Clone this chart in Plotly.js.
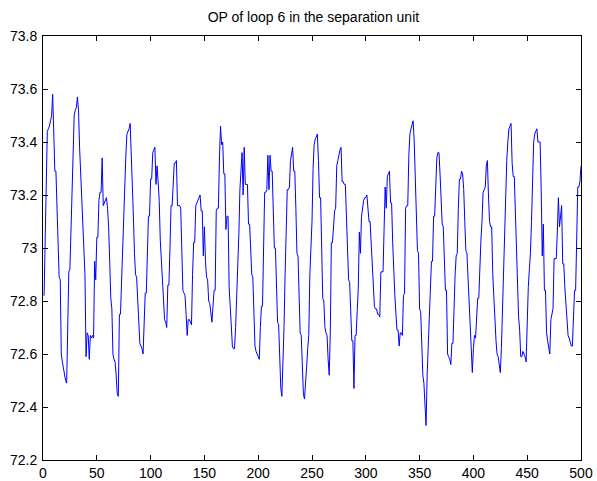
<!DOCTYPE html>
<html>
<head>
<meta charset="utf-8">
<script src="https://cdn.plot.ly/plotly-3.0.1.min.js"></script>
<style>html,body{margin:0;padding:0;background:#fff;}#chart{width:597px;height:481px;}</style>
</head>
<body>
<div id="chart"></div>
<script>
const chartTitle = "OP of loop 6 in the separation unit";
const xTickVals = [0, 50, 100, 150, 200, 250, 300, 350, 400, 450, 500];
const yTickVals = [72.2, 72.4, 72.6, 72.8, 73, 73.2, 73.4, 73.6, 73.8];
const yTickText = ["72.2", "72.4", "72.6", "72.8", "73", "73.2", "73.4", "73.6", "73.8"];
const opValues = [
72.82,73.02,73.25,73.44,73.45,73.46,73.48,73.50,73.58,73.40,
73.29,73.29,73.15,73.00,72.89,72.88,72.60,72.57,72.54,72.51,
72.50,72.49,72.70,72.91,72.92,73.07,73.20,73.30,73.50,73.52,
73.53,73.57,73.52,73.38,73.28,73.20,73.08,72.98,72.90,72.59,
72.68,72.67,72.58,72.67,72.66,72.67,72.66,72.95,72.88,73.04,
73.04,73.18,73.21,73.21,73.34,73.16,73.17,73.18,73.19,73.15,
73.08,72.95,72.81,72.77,72.60,72.58,72.57,72.52,72.45,72.44,
72.75,72.75,72.88,73.00,73.12,73.24,73.35,73.43,73.44,73.45,
73.47,73.37,73.27,73.12,72.98,72.90,72.89,72.80,72.70,72.64,
72.63,72.62,72.60,72.72,72.83,72.83,72.97,73.12,73.12,73.26,
73.26,73.36,73.37,73.38,73.24,73.31,73.25,73.18,73.03,72.95,
72.92,72.82,72.73,72.72,72.70,72.86,72.86,73.00,73.16,73.16,
73.28,73.32,73.32,73.33,73.16,73.16,73.16,73.15,72.98,72.84,
72.83,72.82,72.75,72.67,72.73,72.73,72.72,72.71,72.90,73.02,
73.02,73.16,73.17,73.18,73.19,73.20,73.14,73.14,72.97,73.08,
72.95,72.89,72.88,72.80,72.79,72.75,72.72,72.78,72.84,72.84,
73.14,73.15,73.15,73.34,73.46,73.39,73.40,73.28,73.28,73.07,
73.12,73.12,72.85,72.78,72.70,72.63,72.62,72.62,72.70,72.80,
72.90,73.05,73.22,73.30,73.36,73.20,73.38,73.24,73.24,73.24,
73.09,73.09,73.00,72.90,72.89,72.76,72.63,72.61,72.60,72.59,
72.58,72.70,72.78,72.78,73.00,73.21,73.21,73.22,73.35,73.22,
73.35,73.29,73.29,73.10,73.00,73.00,72.85,72.72,72.71,72.54,
72.47,72.44,72.55,72.70,72.90,73.04,73.22,73.22,73.23,73.33,
73.36,73.38,73.29,73.29,73.15,72.98,72.97,72.82,72.68,72.67,
72.56,72.45,72.43,72.48,72.55,72.62,72.67,72.90,72.99,73.10,
73.30,73.39,73.41,73.42,73.43,73.33,73.19,73.19,73.00,72.81,
72.80,72.70,72.68,72.67,72.58,72.52,72.68,73.02,73.02,73.08,
73.14,73.15,73.31,73.33,73.36,73.37,73.38,73.25,73.25,73.24,
73.24,73.10,73.02,72.88,72.87,72.75,72.65,72.65,72.47,72.67,
72.67,72.76,72.85,73.06,72.98,73.12,73.16,73.18,73.19,73.19,
73.20,73.15,73.10,73.10,73.01,72.92,72.85,72.78,72.77,72.77,
72.75,72.75,72.74,72.91,72.91,72.91,73.07,73.23,73.15,73.27,
73.28,73.29,73.17,73.17,73.02,72.88,72.82,72.75,72.69,72.69,
72.63,72.68,72.68,72.67,72.82,72.83,73.15,73.16,73.16,73.35,
73.43,73.45,73.47,73.48,73.40,73.25,73.12,72.99,72.98,72.77,
72.76,72.60,72.52,72.49,72.40,72.33,72.52,72.65,72.78,72.88,
72.95,72.95,73.12,73.12,73.22,73.34,73.36,73.36,73.28,73.18,
73.09,73.08,72.95,72.84,72.84,72.60,72.59,72.58,72.56,72.64,
72.64,72.80,72.90,72.97,72.98,73.15,73.26,73.26,73.29,73.28,
73.22,73.10,72.99,72.98,72.88,72.78,72.72,72.62,72.53,72.62,
72.67,72.66,72.74,72.81,72.81,72.95,73.03,73.10,73.21,73.22,
73.23,73.31,73.33,73.20,73.10,73.08,73.08,72.90,72.80,72.74,
72.65,72.60,72.59,72.56,72.53,72.62,72.77,72.85,73.05,73.20,
73.33,73.40,73.45,73.46,73.47,73.32,73.27,73.27,73.12,72.95,
72.80,72.74,72.69,72.59,72.59,72.61,72.60,72.59,72.57,72.75,
72.85,72.92,72.98,73.10,73.28,73.40,73.43,73.44,73.45,73.40,
73.40,73.40,73.22,72.97,73.09,72.84,72.84,72.68,72.65,72.63,
72.60,72.73,72.76,72.77,72.96,72.96,72.96,73.06,73.19,73.08,
73.12,73.16,72.94,72.94,72.85,72.78,72.70,72.67,72.66,72.64,
72.63,72.63,72.75,72.84,72.84,73.08,73.23,73.23,73.25,73.31
];
const sampleIndex = opValues.map((v, i) => i + 1);

const axisCommon = {
  showline: true, linecolor: '#000', linewidth: 1, mirror: 'ticks',
  ticks: 'inside', ticklen: 5, tickwidth: 1, tickcolor: '#000',
  showgrid: false, zeroline: false,
  tickfont: {family: 'Liberation Sans, Arial, sans-serif', size: 14, color: '#000'}
};

Plotly.newPlot('chart', [{
  x: sampleIndex, y: opValues, type: 'scatter', mode: 'lines',
  line: {color: '#0000ff', width: 1}, hoverinfo: 'skip'
}], {
  width: 597, height: 481,
  margin: {l: 43, r: 16, t: 36, b: 21, pad: 0},
  paper_bgcolor: '#fff', plot_bgcolor: '#fff',
  showlegend: false,
  title: {text: chartTitle, x: 0.525, xanchor: 'center', y: 0.965, yanchor: 'middle',
          font: {family: 'Liberation Sans, Arial, sans-serif', size: 14, color: '#000'}},
  xaxis: Object.assign({}, axisCommon, {range: [0, 500], tickvals: xTickVals, ticklabelstandoff: 0}),
  yaxis: Object.assign({}, axisCommon, {range: [72.2, 73.8], tickvals: yTickVals, ticktext: yTickText, ticklabelstandoff: 2})
}, {displayModeBar: false, staticPlot: true});
</script>
</body>
</html>
